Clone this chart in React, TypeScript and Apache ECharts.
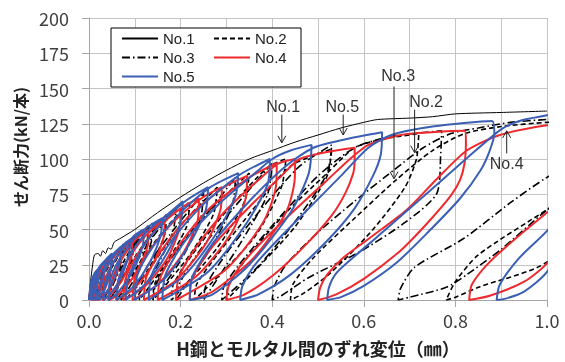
import React, { useEffect, useRef } from 'react';
import * as echarts from 'echarts';

const seriesNames = ['No.1', 'No.2', 'No.3', 'No.4', 'No.5'];
const xTitle = 'H鋼とモルタル間のずれ変位（㎜）';
const yTitle = 'せん断力(kN/本)';

// No.1 : monotonic envelope
const no1: number[][] = [
  [0, 0], [0.003, 12], [0.008, 25], [0.012, 32], [0.02, 33], [0.025, 31], [0.03, 35], [0.036, 33],
  [0.042, 37], [0.048, 36], [0.055, 41], [0.07, 44], [0.1, 50], [0.15, 62], [0.2, 73], [0.25, 83],
  [0.3, 92], [0.35, 100], [0.4, 106], [0.45, 112], [0.5, 117], [0.55, 122], [0.6, 126], [0.63, 128],
  [0.7, 129], [0.75, 130], [0.8, 132], [0.9, 133], [1.0, 134],
];

// No.2 : dashed black
const no2: number[][] = [
  [0, 0], [0.004, 10], [0.01, 16], [0.015, 18], [0.013, 10], [0.008, 3], [0.004, 0],
  [0.006, 9], [0.015, 17], [0.023, 22], [0.03, 25], [0.027, 15], [0.018, 5], [0.01, 0],
  [0.012, 8], [0.022, 16], [0.037, 26], [0.05, 32], [0.047, 21], [0.035, 9], [0.018, 0],
  [0.02, 8], [0.032, 17], [0.05, 28], [0.07, 38], [0.066, 26], [0.05, 12], [0.027, 0],
  [0.03, 9], [0.045, 20], [0.07, 34], [0.1, 46], [0.095, 32], [0.075, 16], [0.045, 0],
  [0.048, 9], [0.065, 21], [0.095, 38], [0.13, 53], [0.125, 38], [0.1, 19], [0.06, 0],
  [0.063, 9], [0.085, 23], [0.125, 42], [0.17, 61], [0.164, 45], [0.13, 22], [0.08, 0],
  [0.083, 10], [0.11, 26], [0.16, 48], [0.22, 70], [0.213, 52], [0.17, 27], [0.11, 0],
  [0.113, 10], [0.145, 28], [0.2, 53], [0.28, 80], [0.272, 61], [0.22, 32], [0.14, 0],
  [0.143, 11], [0.18, 30], [0.25, 59], [0.35, 90], [0.34, 70], [0.28, 37], [0.18, 0],
  [0.184, 11], [0.225, 32], [0.3, 63], [0.39, 94], [0.43, 100], [0.42, 80], [0.36, 44], [0.23, 0],
  [0.235, 11], [0.28, 32], [0.36, 65], [0.44, 95], [0.53, 107], [0.52, 88], [0.45, 52], [0.36, 20], [0.3, 0],
  [0.305, 11], [0.35, 32], [0.43, 62], [0.52, 90], [0.58, 108], [0.64, 114], [0.72, 118],
  [0.715, 100], [0.69, 80], [0.62, 50], [0.53, 20], [0.47, 5], [0.44, 0],
  [0.445, 11], [0.49, 30], [0.58, 58], [0.67, 85], [0.75, 106], [0.82, 118], [0.9, 123], [1.0, 126], [1.15, 128],
  [1.14, 105], [1.1, 70], [1.0, 27], [0.85, 9], [0.8, 2], [0.78, 0],
  [0.8, 13], [0.85, 32], [1.0, 64], [1.1, 85],
];

// No.3 : dash-dot black
const no3: number[][] = [
  [0, 0], [0.005, 12], [0.012, 17], [0.02, 20], [0.017, 10], [0.01, 2], [0.006, 0],
  [0.01, 9], [0.02, 18], [0.03, 25], [0.027, 14], [0.018, 4], [0.012, 0],
  [0.016, 8], [0.03, 19], [0.05, 32], [0.046, 20], [0.033, 7], [0.02, 0],
  [0.025, 8], [0.042, 20], [0.06, 30], [0.075, 40], [0.07, 27], [0.05, 11], [0.03, 0],
  [0.035, 9], [0.055, 22], [0.08, 36], [0.1, 46], [0.095, 32], [0.07, 13], [0.045, 0],
  [0.05, 9], [0.075, 25], [0.105, 41], [0.14, 55], [0.135, 40], [0.105, 18], [0.07, 0],
  [0.075, 9], [0.1, 25], [0.14, 45], [0.19, 65], [0.183, 48], [0.145, 22], [0.1, 0],
  [0.105, 10], [0.135, 28], [0.19, 52], [0.25, 76], [0.243, 57], [0.2, 28], [0.14, 0],
  [0.145, 10], [0.18, 30], [0.25, 58], [0.32, 87], [0.312, 66], [0.26, 34], [0.19, 0],
  [0.195, 10], [0.235, 32], [0.31, 63], [0.4, 97], [0.39, 75], [0.33, 40], [0.25, 0],
  [0.255, 10], [0.3, 33], [0.38, 66], [0.46, 95], [0.53, 110], [0.52, 90], [0.46, 60], [0.37, 24], [0.29, 0],
  [0.295, 10], [0.34, 30], [0.42, 60], [0.5, 88], [0.58, 108], [0.66, 116], [0.77, 120],
  [0.768, 104], [0.76, 76], [0.69, 55], [0.59, 34], [0.48, 16], [0.42, 3], [0.4, 0],
  [0.405, 10], [0.43, 25], [0.5, 48], [0.58, 70], [0.665, 92], [0.73, 108], [0.79, 118], [0.85, 122],
  [0.92, 126], [1.0, 128], [1.15, 131],
  [1.14, 110], [1.1, 90], [1.0, 64], [0.9, 36], [0.825, 18], [0.78, 9], [0.7, 2], [0.675, 0],
  [0.68, 8], [0.71, 23], [0.82, 44], [0.92, 69], [1.0, 87], [1.1, 105],
];

// No.4 : red
const no4: number[][] = [
  [0, 0], [0.004, 10], [0.012, 17], [0.02, 20], [0.017, 10], [0.01, 3], [0.004, 0],
  [0.006, 9], [0.015, 17], [0.025, 23], [0.035, 26], [0.032, 16], [0.023, 6], [0.013, 1], [0.008, 0],
  [0.01, 9], [0.02, 18], [0.035, 26], [0.05, 31], [0.047, 20], [0.035, 8], [0.02, 1], [0.013, 0],
  [0.015, 9], [0.026, 19], [0.045, 29], [0.07, 36], [0.067, 25], [0.05, 11], [0.03, 2], [0.02, 0],
  [0.023, 11], [0.037, 22], [0.06, 33], [0.08, 39], [0.095, 42], [0.092, 30], [0.072, 14], [0.045, 3], [0.03, 0],
  [0.033, 12], [0.05, 25], [0.08, 38], [0.105, 45], [0.13, 50], [0.127, 37], [0.1, 18], [0.068, 5], [0.045, 0],
  [0.049, 13], [0.068, 27], [0.1, 42], [0.135, 51], [0.165, 57], [0.162, 43], [0.135, 23], [0.095, 7], [0.06, 0],
  [0.064, 14], [0.088, 30], [0.125, 46], [0.17, 58], [0.2, 65], [0.197, 50], [0.17, 29], [0.12, 9], [0.075, 0],
  [0.08, 15], [0.105, 32], [0.15, 51], [0.205, 66], [0.24, 72], [0.237, 56], [0.205, 33], [0.15, 11], [0.095, 0],
  [0.1, 15], [0.13, 34], [0.18, 54], [0.245, 72], [0.29, 80], [0.287, 64], [0.255, 40], [0.19, 14], [0.12, 0],
  [0.125, 16], [0.16, 36], [0.22, 60], [0.295, 80], [0.345, 88], [0.342, 72], [0.31, 47], [0.235, 17], [0.15, 0],
  [0.156, 16], [0.195, 38], [0.26, 64], [0.35, 87], [0.41, 97], [0.408, 80], [0.38, 55], [0.3, 22], [0.19, 0],
  [0.196, 16], [0.235, 38], [0.3, 64], [0.38, 88], [0.415, 97], [0.45, 100], [0.449, 85], [0.43, 62], [0.36, 30], [0.27, 6], [0.22, 0],
  [0.225, 15], [0.27, 38], [0.35, 66], [0.42, 88], [0.46, 100], [0.52, 105], [0.58, 108],
  [0.58, 98], [0.577, 90], [0.56, 76], [0.53, 60], [0.47, 38], [0.4, 17], [0.34, 4], [0.3, 0],
  [0.305, 10], [0.33, 24], [0.38, 42], [0.45, 64], [0.52, 85], [0.57, 100], [0.61, 110], [0.68, 117], [0.75, 119], [0.82, 120],
  [0.823, 112], [0.82, 97], [0.81, 85], [0.79, 74], [0.74, 55], [0.68, 35], [0.6, 15], [0.54, 4], [0.5, 0],
  [0.505, 9], [0.52, 18], [0.555, 30], [0.613, 44], [0.694, 64], [0.76, 86], [0.825, 106], [0.897, 117], [1.0, 124], [1.1, 127],
  [1.1, 110], [1.08, 80], [1.04, 45], [1.0, 26], [0.95, 13], [0.875, 3], [0.83, 0],
  [0.836, 11], [0.875, 27], [0.94, 46], [1.0, 62], [1.05, 75],
];

// No.5 : blue
const no5: number[][] = [
  [0, 0], [0.004, 12], [0.012, 19], [0.02, 22], [0.017, 12], [0.01, 4], [0.004, 0],
  [0.006, 10], [0.015, 19], [0.024, 24], [0.035, 28], [0.032, 18], [0.022, 7], [0.012, 1], [0.008, 0],
  [0.01, 10], [0.02, 20], [0.035, 28], [0.05, 33], [0.047, 22], [0.035, 9], [0.022, 2], [0.015, 0],
  [0.017, 10], [0.028, 20], [0.045, 30], [0.06, 35], [0.07, 38], [0.067, 27], [0.05, 12], [0.032, 3], [0.022, 0],
  [0.025, 12], [0.04, 24], [0.06, 34], [0.078, 40], [0.09, 43], [0.087, 32], [0.07, 16], [0.048, 5], [0.032, 0],
  [0.035, 12], [0.05, 25], [0.075, 37], [0.1, 46], [0.12, 50], [0.117, 38], [0.095, 20], [0.065, 6], [0.042, 0],
  [0.046, 14], [0.065, 28], [0.095, 42], [0.125, 51], [0.16, 58], [0.156, 45], [0.13, 25], [0.095, 9], [0.06, 0],
  [0.065, 15], [0.09, 32], [0.125, 48], [0.165, 59], [0.205, 70], [0.2, 55], [0.17, 33], [0.125, 12], [0.08, 0],
  [0.086, 16], [0.115, 36], [0.16, 55], [0.21, 70], [0.26, 80], [0.255, 64], [0.22, 40], [0.165, 15], [0.1, 0],
  [0.106, 18], [0.14, 38], [0.2, 62], [0.265, 80], [0.326, 90], [0.32, 74], [0.28, 48], [0.21, 18], [0.13, 0],
  [0.137, 18], [0.18, 42], [0.25, 68], [0.33, 89], [0.395, 100], [0.39, 82], [0.345, 55], [0.26, 20], [0.16, 0],
  [0.167, 18], [0.21, 42], [0.29, 70], [0.37, 92], [0.4, 100], [0.44, 106], [0.486, 110],
  [0.48, 90], [0.44, 62], [0.35, 25], [0.27, 4], [0.22, 0],
  [0.225, 16], [0.27, 40], [0.35, 70], [0.43, 95], [0.49, 108], [0.56, 114], [0.64, 119],
  [0.637, 103], [0.62, 88], [0.58, 65], [0.52, 42], [0.44, 18], [0.37, 4], [0.33, 0],
  [0.335, 10], [0.36, 24], [0.41, 42], [0.48, 65], [0.55, 88], [0.61, 108], [0.66, 117], [0.75, 123], [0.88, 127],
  [0.885, 118], [0.875, 106], [0.855, 92], [0.81, 72], [0.74, 48], [0.67, 26], [0.6, 10], [0.55, 2], [0.52, 0],
  [0.524, 9], [0.54, 19], [0.58, 31], [0.63, 45], [0.69, 62], [0.76, 82], [0.83, 102], [0.9, 121], [0.94, 127],
  [1.0, 131], [1.05, 134], [1.1, 135],
  [1.095, 115], [1.08, 85], [1.05, 50], [1.0, 20], [0.95, 6], [0.91, 1], [0.89, 0],
  [0.897, 11], [0.94, 30], [1.0, 49], [1.05, 70],
];

const annotations = [
  { text: 'No.1', label: [0.424, 137.5], from: [0.421, 131.5], to: [0.421, 111.5], head: 'down' },
  { text: 'No.5', label: [0.553, 137.5], from: [0.555, 131.5], to: [0.555, 117], head: 'down' },
  { text: 'No.3', label: [0.675, 159], from: [0.666, 151.5], to: [0.666, 86], head: 'down' },
  { text: 'No.2', label: [0.736, 141], from: [0.711, 135], to: [0.711, 104.5], head: 'down' },
  { text: 'No.4', label: [0.912, 97], from: [0.912, 104], to: [0.912, 120], head: 'up' },
];

const FONT = "'Noto Sans CJK JP', 'Noto Sans', sans-serif";
const LATIN = "'Liberation Sans', Arial, sans-serif";

export default function App() {
  const ref = useRef<HTMLDivElement>(null);
  useEffect(() => {
    const chart = echarts.init(ref.current!, null, { renderer: 'svg' });
    const lineSeries = (name: string, data: number[][], color: string, width: number, type: any) => ({
      type: 'line',
      name,
      data,
      symbol: 'none',
      showSymbol: false,
      smooth: 0.25,
      clip: true,
      lineStyle: { color, width, type },
      itemStyle: { color },
      emphasis: { disabled: true },
    });
    chart.setOption({
      animation: false,
      textStyle: { fontFamily: FONT },
      grid: { left: 89, right: 18, top: 18, bottom: 56 },
      legend: {
        data: seriesNames,
        left: 111,
        top: 28,
        width: 182,
        orient: 'horizontal',
        itemWidth: 36,
        itemHeight: 12,
        itemGap: 4,
        padding: [3, 0, 3, 10],
        borderColor: '#000',
        borderWidth: 1,
        backgroundColor: '#fff',
        itemStyle: { opacity: 0, borderWidth: 0 },
        textStyle: { fontSize: 15, color: '#222', width: 46, lineHeight: 15, fontFamily: LATIN },
      },
      xAxis: {
        type: 'value',
        min: 0,
        max: 1,
        interval: 0.2,
        name: xTitle,
        nameLocation: 'middle',
        nameGap: 39,
        nameTextStyle: { fontSize: 18, fontWeight: 'bold', color: '#222', fontFamily: FONT },
        axisLabel: { formatter: (v: number) => v.toFixed(1), fontSize: 18, color: '#404040', margin: 11 },
        axisLine: { lineStyle: { color: '#a6a6a6', width: 1 } },
        axisTick: { show: true, length: 7, lineStyle: { color: '#a6a6a6' } },
        splitLine: { show: true, lineStyle: { color: '#c4c4c4', width: 1 } },
        minorTick: { show: false, splitNumber: 2 },
        minorSplitLine: { show: true, lineStyle: { color: '#c4c4c4', width: 1 } },
      },
      yAxis: {
        type: 'value',
        min: 0,
        max: 200,
        interval: 25,
        name: yTitle,
        nameLocation: 'middle',
        nameGap: 52,
        nameTextStyle: { fontSize: 16, fontWeight: 'bold', color: '#222', fontFamily: FONT, padding: [0, 0, 0, 24] },
        axisLabel: { fontSize: 18, color: '#404040', margin: 20 },
        axisLine: { show: true, lineStyle: { color: '#a6a6a6', width: 1 } },
        axisTick: { show: true, length: 7, lineStyle: { color: '#a6a6a6' } },
        splitLine: { show: true, lineStyle: { color: '#c4c4c4', width: 1 } },
      },
      series: [
        lineSeries('No.1', no1, '#000000', 1, 'solid'),
        lineSeries('No.2', no2, '#000000', 1.6, [5, 3]),
        lineSeries('No.3', no3, '#000000', 1.6, [8, 3, 1.5, 3]),
        lineSeries('No.4', no4, '#ee2a2f', 2, 'solid'),
        lineSeries('No.5', no5, '#3a5fb5', 2, 'solid'),
      ],
    });

    const px = (p: number[]) => chart.convertToPixel({ gridIndex: 0 }, p) as number[];
    const graphics: any[] = [];
    annotations.forEach((a) => {
      const l = px(a.label);
      const f = px(a.from);
      const t = px(a.to);
      graphics.push({
        type: 'text',
        x: l[0],
        y: l[1],
        style: { text: a.text, fontSize: 16, fill: '#333', align: 'center', verticalAlign: 'middle', fontFamily: LATIN },
        z: 100,
      });
      graphics.push({
        type: 'line',
        shape: { x1: f[0], y1: f[1], x2: t[0], y2: t[1] },
        style: { stroke: '#222', lineWidth: 1 },
        z: 100,
      });
      const d = a.head === 'down' ? -1 : 1;
      graphics.push({
        type: 'polyline',
        shape: { points: [[t[0] - 4, t[1] + d * 7], [t[0], t[1]], [t[0] + 4, t[1] + d * 7]] },
        style: { stroke: '#222', lineWidth: 1, fill: 'none' },
        z: 100,
      });
    });
    chart.setOption({ graphic: graphics });
    return () => chart.dispose();
  }, []);
  return <div ref={ref} style={{ position: 'fixed', left: 0, top: 0, width: 565, height: 362 }} />;
}
